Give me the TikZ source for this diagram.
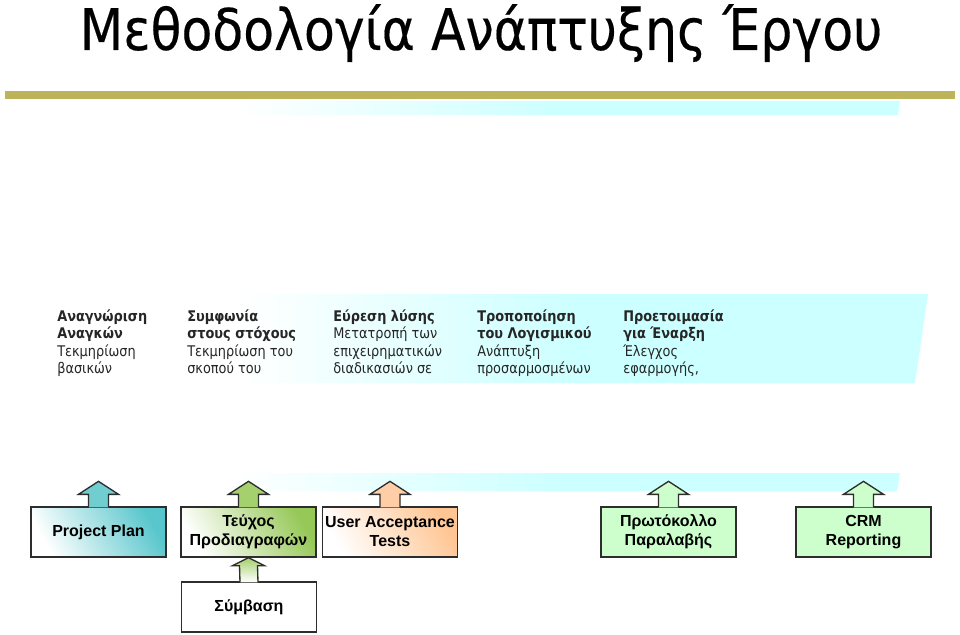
\documentclass[tikz,border=0pt]{standalone}
\usepackage{fontspec}
\setmainfont{Liberation Sans}
\newfontfamily\titlefont[FakeStretch=0.88, FakeBold=0.3]{DejaVu Sans}
\newfontfamily\bandfont[FakeStretch=0.88]{DejaVu Sans}
\usepackage{tikz}
\usetikzlibrary{calc, positioning}
\usepackage{xcolor}

\definecolor{ruleolive}{RGB}{189,179,90}
\definecolor{bandcyan}{RGB}{204,255,255}
\definecolor{boxline}{RGB}{45,45,45}
\definecolor{planteal}{RGB}{88,198,204}
\definecolor{arrteal}{RGB}{112,206,208}
\definecolor{specgreen}{RGB}{150,200,88}
\definecolor{arrgreen}{RGB}{165,208,110}
\definecolor{testpeach}{RGB}{255,198,148}
\definecolor{arrpeach}{RGB}{255,206,166}
\definecolor{paleleaf}{RGB}{204,255,204}

\pgfdeclarehorizontalshading{bandfade}{100bp}{color(0bp)=(white); color(25bp)=(white); color(38bp)=(white); color(56bp)=(bandcyan); color(100bp)=(bandcyan)}

% block arrow sticking out of the top of a box
\newcommand{\outarrow}[2]{%
  \filldraw[fill=#2, draw=boxline, line width=1pt, line join=miter]
    ($(#1.north)+(-10,1)$) -- ++(0,-13) -- ++(-10,0) -- ($(#1.north)+(0,-25)$)
    -- ($(#1.north)+(20,-12)$) -- ++(-10,0) -- ++(0,13);
}

\begin{document}
\begin{tikzpicture}[x=0.75pt, y=-0.75pt,
    outbox/.style={draw=boxline, line width=1pt, minimum width=101.25pt, minimum height=37.5pt,
      align=center, inner sep=2pt, font=\bfseries\fontsize{12}{14.25}\selectfont},
    bandtext/.style={anchor=north west, inner sep=0pt, align=left, text=black!85,
      font=\bandfont\fontsize{11}{13}\selectfont}]
  \useasboundingbox (0,0) rectangle (960,635);
  \fill[white] (0,0) rectangle (960,635);

  % title and rule
  \node[anchor=base] (title) at (481,50) {\titlefont\fontsize{43}{50}\selectfont Μεθοδολογία Ανάπτυξης Έργου};
  \fill[ruleolive] (5,91) rectangle (955,99);
  \shade[shading=bandfade] (5,101) -- (900,101) -- (898,115) -- (5,115) -- cycle;

  % phases band
  \shade[shading=bandfade] (0,294) -- (928,294) -- (915,383) -- (0,383) -- cycle;
  \node[bandtext] (ph1) at (57,309.5) {\textbf{Αναγνώριση}\\\textbf{Αναγκών}\\Τεκμηρίωση\\βασικών};
  \node[bandtext] (ph2) at (187,309.5) {\textbf{Συμφωνία}\\\textbf{στους στόχους}\\Τεκμηρίωση του\\σκοπού του};
  \node[bandtext] (ph3) at (333,309.5) {\textbf{Εύρεση λύσης}\\Μετατροπή των\\επιχειρηματικών\\διαδικασιών σε};
  \node[bandtext] (ph4) at (477,309.5) {\textbf{Τροποποίηση}\\\textbf{του Λογισμικού}\\Ανάπτυξη\\προσαρμοσμένων};
  \node[bandtext] (ph5) at (623,309.5) {\textbf{Προετοιμασία}\\\textbf{για Έναρξη}\\Έλεγχος\\εφαρμογής,};

  % deliverables
  \shade[shading=bandfade] (0,473) -- (900,473) -- (897,491) -- (0,491) -- cycle;
  \node[outbox, top color=planteal, bottom color=white, shading angle=-60] (plan) at (98.5,532) {Project Plan};
  \node[outbox, top color=specgreen, bottom color=white, shading angle=-60] (spec) at (248.5,532) {Τεύχος\\Προδιαγραφών};
  \node[outbox, top color=testpeach, bottom color=white, shading angle=-60] (uat) at (390,532) {User Acceptance\\Tests};
  \node[outbox, fill=paleleaf] (recv) at (668.5,532) {Πρωτόκολλο\\Παραλαβής};
  \node[outbox, fill=paleleaf] (crm) at (863.5,532) {CRM\\Reporting};
  \node[outbox, fill=white] (contract) at (249,607) {Σύμβαση};

  \outarrow{plan}{arrteal}
  \outarrow{spec}{arrgreen}
  \outarrow{uat}{arrpeach}
  \outarrow{recv}{paleleaf}
  \outarrow{crm}{paleleaf}

  \filldraw[top color=arrgreen, bottom color=white, draw=boxline, line width=1pt, line join=miter]
    ($(contract.north)+(-9,1)$) -- ($(spec.south)+(-9,8)$) -- ($(spec.south)+(-16,8)$) -- (spec.south)
    -- ($(spec.south)+(16,8)$) -- ($(spec.south)+(9,8)$) -- ($(contract.north)+(9,1)$);
\end{tikzpicture}
\end{document}
